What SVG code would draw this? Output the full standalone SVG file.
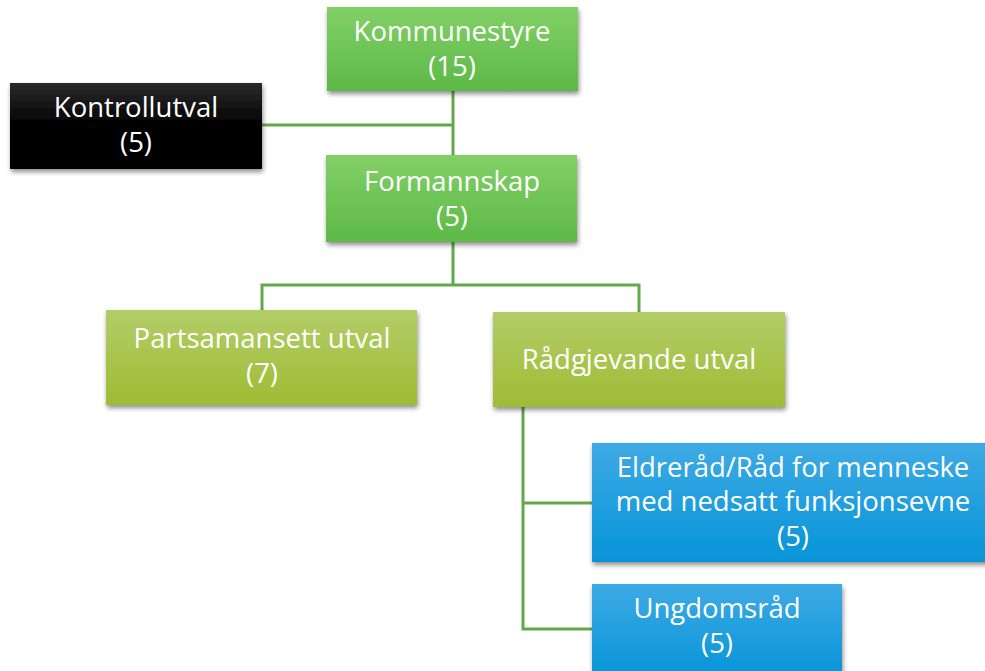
<svg xmlns="http://www.w3.org/2000/svg" width="985" height="671" viewBox="0 0 985 671">
<defs>
<linearGradient id="gGreen" x1="0" y1="0" x2="0" y2="1"><stop offset="0" stop-color="#82d067"/><stop offset="1" stop-color="#5db947"/></linearGradient>
<linearGradient id="gOlive" x1="0" y1="0" x2="0" y2="1"><stop offset="0" stop-color="#b2cd68"/><stop offset="1" stop-color="#9ebc34"/></linearGradient>
<linearGradient id="gBlue" x1="0" y1="0" x2="0" y2="1"><stop offset="0" stop-color="#3eaae5"/><stop offset="1" stop-color="#0694d8"/></linearGradient>
<linearGradient id="gBlack" x1="0" y1="0" x2="0" y2="1"><stop offset="0" stop-color="#2b2b2b"/><stop offset="0.5" stop-color="#000"/><stop offset="1" stop-color="#000"/></linearGradient>
<filter id="sh" x="-10%" y="-10%" width="120%" height="130%"><feGaussianBlur in="SourceAlpha" stdDeviation="2.5"/><feOffset dx="1" dy="3" result="b"/><feComponentTransfer><feFuncA type="linear" slope="0.45"/></feComponentTransfer><feMerge><feMergeNode/><feMergeNode in="SourceGraphic"/></feMerge></filter>
</defs>
<style>
.box{filter:url(#sh)}
.t{font-family:"Open Sans","Liberation Sans",sans-serif;font-size:27.5px;fill:#fff;text-anchor:middle}
.c{fill:none;stroke:#65a84a;stroke-width:3}
</style>
<rect width="985" height="671" fill="#fff"/>
<g id="connectors">
<path class="c" d="M453 91V156"/>
<path class="c" d="M262 125H453"/>
<path class="c" d="M453 242V285H262V311M453 285H639V312"/>
<path class="c" d="M523 407V629H592M523 503H592"/>
</g>
<g id="kommunestyre"><rect class="box" x="327" y="7" width="251" height="84" fill="url(#gGreen)"/><text class="t" x="452" y="41">Kommunestyre</text><text class="t" x="452" y="76">(15)</text></g>
<g id="kontrollutval"><rect class="box" x="10" y="83" width="252" height="86" fill="url(#gBlack)"/><text class="t" x="136" y="117">Kontrollutval</text><text class="t" x="136" y="152">(5)</text></g>
<g id="formannskap"><rect class="box" x="326" y="155" width="251" height="87" fill="url(#gGreen)"/><text class="t" x="452" y="191">Formannskap</text><text class="t" x="452" y="226">(5)</text></g>
<g id="partsamansett"><rect class="box" x="106" y="310" width="311" height="95" fill="url(#gOlive)"/><text class="t" x="262" y="348">Partsamansett utval</text><text class="t" x="262" y="383">(7)</text></g>
<g id="radgjevande"><rect class="box" x="493" y="312" width="292" height="95" fill="url(#gOlive)"/><text class="t" x="639" y="369">Rådgjevande utval</text></g>
<g id="eldrerad"><rect class="box" x="592" y="443" width="400" height="119" fill="url(#gBlue)"/><text class="t" x="793" y="477">Eldreråd/Råd for menneske</text><text class="t" x="793" y="511">med nedsatt funksjonsevne</text><text class="t" x="793" y="546">(5)</text></g>
<g id="ungdomsrad"><rect class="box" x="592" y="584" width="250" height="95" fill="url(#gBlue)"/><text class="t" x="717" y="618">Ungdomsråd</text><text class="t" x="717" y="653">(5)</text></g>
</svg>
